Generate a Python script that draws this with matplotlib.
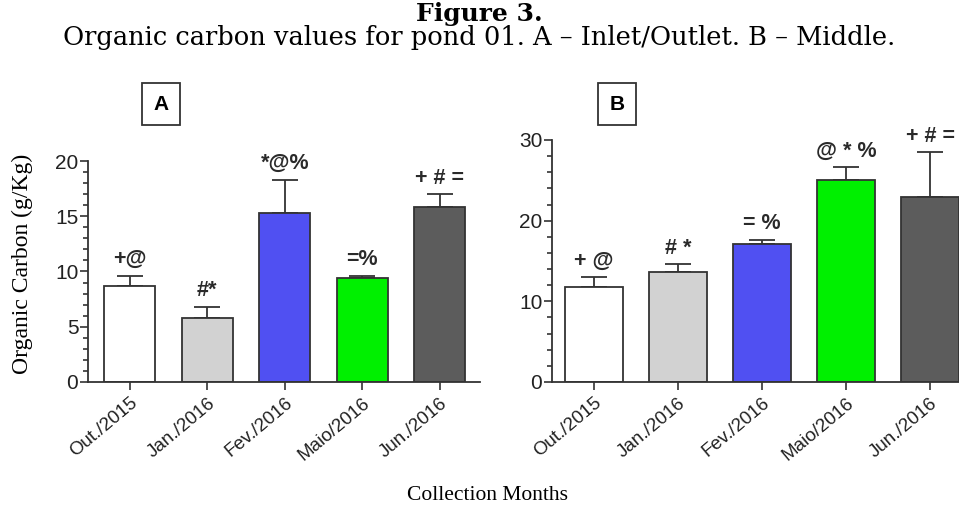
import matplotlib.pyplot as plt
import numpy as np

months = ['Out./2015', 'Jan./2016', 'Fev./2016', 'Maio/2016', 'Jun./2016']
colors = ['#ffffff', '#d2d2d2', '#5050f2', '#00f000', '#5c5c5c']

a_vals = [8.7, 5.8, 15.3, 9.4, 15.8]
a_err = [0.9, 1.0, 3.0, 0.2, 1.2]
a_marks = ['+@', '#*', '*@%', '=%', '+ # =']

b_vals = [11.8, 13.6, 17.1, 25.0, 22.9]
b_err = [1.2, 1.0, 0.5, 1.6, 5.6]
b_marks = ['+ @', '# *', '= %', '@ * %', '+ # =']

fig = plt.figure(figsize=(9.59, 5.12), dpi=100)

axA = fig.add_axes([0.0918, 0.254, 0.4087, 0.4315])
axB = fig.add_axes([0.5756, 0.254, 0.438, 0.4726])

def draw(ax, vals, err, marks, ymax, minor, width, xl):
    x = np.arange(len(vals))
    ax.bar(x, vals, width=width, color=colors, edgecolor='#333333', linewidth=1.3, zorder=2)
    ax.errorbar(x, vals, yerr=[np.zeros(len(err)), err], fmt='none', ecolor='#333333',
                elinewidth=1.3, capsize=9.5, capthick=1.3, zorder=1)
    for xi, v, e, m in zip(x, vals, err, marks):
        ax.annotate(m, (xi, v + e), xytext=(0, 4), textcoords='offset points',
                    ha='center', va='bottom', fontsize=15.5, fontweight='bold',
                    family='Liberation Sans', color='#2a2a2a')
    ax.set_ylim(0, ymax)
    ax.set_xlim(*xl)
    ax.set_xticks(x)
    ax.set_xticklabels(months, rotation=40, ha='right', rotation_mode='anchor',
                       fontsize=13.5, family='Liberation Sans', color='#222222')
    ax.set_yticks(np.arange(0, ymax + 1, 5 if ymax == 20 else 10))
    ax.set_yticks(np.arange(0, ymax + 0.1, minor), minor=True)
    for lab in ax.get_yticklabels():
        lab.set_family('Liberation Sans')
        lab.set_fontsize(15)
        lab.set_color('#222222')
    ax.tick_params(axis='y', which='major', length=6, width=1.2, color='#333333', pad=1)
    ax.tick_params(axis='y', which='minor', length=3.5, width=1.2, color='#333333')
    ax.tick_params(axis='x', length=6, width=1.2, color='#333333', pad=3)
    for s in ['top', 'right']:
        ax.spines[s].set_visible(False)
    for s in ['left', 'bottom']:
        ax.spines[s].set_linewidth(1.3)
        ax.spines[s].set_color('#333333')

draw(axA, a_vals, a_err, a_marks, 20, 1, 0.66, (-0.54, 4.52))
draw(axB, b_vals, b_err, b_marks, 30, 2, 0.68, (-0.5, 4.5))

fig.text(0.5, 0.972, 'Figure 3.', ha='center', va='center', fontsize=18,
         fontweight='bold', family='DejaVu Serif')
fig.text(0.5, 0.926, 'Organic carbon values for pond 01. A \u2013 Inlet/Outlet. B \u2013 Middle.',
         ha='center', va='center', fontsize=18.5, family='DejaVu Serif')
fig.text(0.023, 0.484, 'Organic Carbon (g/Kg)', rotation=90, ha='center', va='center',
         fontsize=17, family='Liberation Serif')
fig.text(0.508, 0.033, 'Collection Months', ha='center', va='center',
         fontsize=15.5, family='Liberation Serif')

for lbl, xc in [('A', 161 / 959), ('B', 617 / 959)]:
    fig.text(xc, 1 - 104 / 512, lbl, ha='center', va='center', fontsize=15, fontweight='bold',
             family='Liberation Sans',
             bbox=dict(boxstyle='square,pad=0.55', facecolor='white', edgecolor='#333333', linewidth=1.3))

fig.savefig('out.png', dpi=100)
